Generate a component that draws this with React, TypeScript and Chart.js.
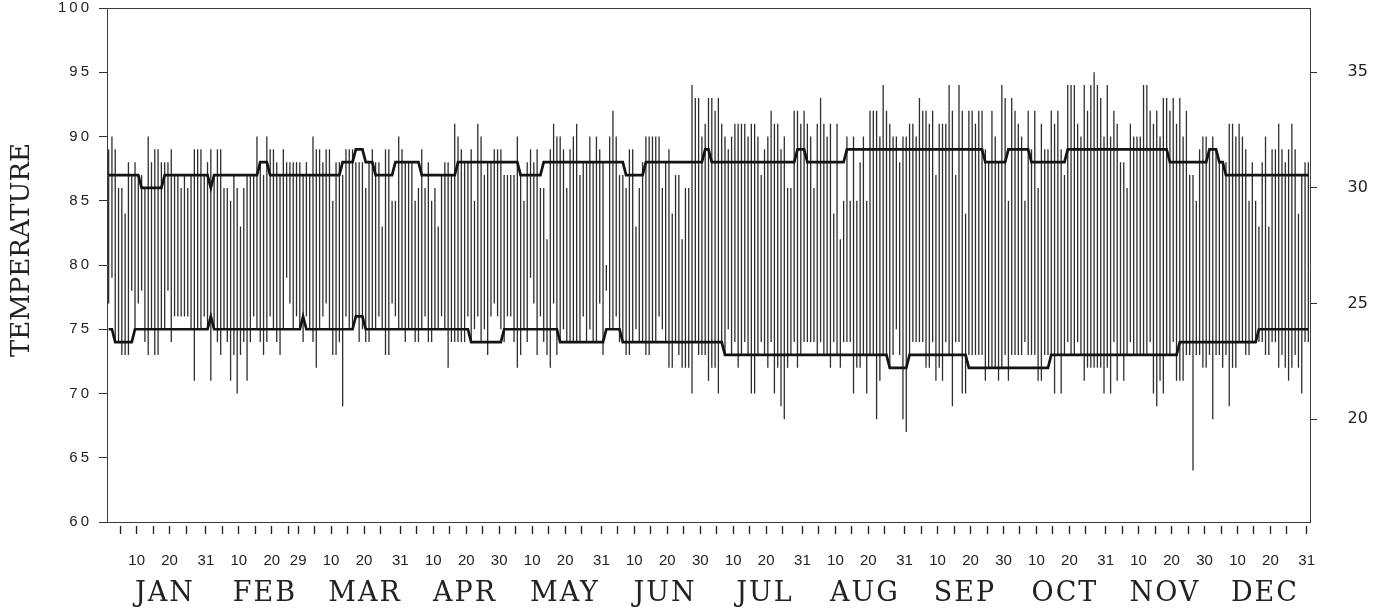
import React, { useEffect, useRef } from 'react';
import { Chart, registerables } from 'chart.js';

Chart.register(...registerables);

// ---------- data ----------
const monthNames = ['JAN', 'FEB', 'MAR', 'APR', 'MAY', 'JUN', 'JUL', 'AUG', 'SEP', 'OCT', 'NOV', 'DEC'];
const monthDays = [31, 28, 31, 30, 31, 30, 31, 31, 30, 31, 30, 31];
const monthEndLabels = ['31', '29', '31', '30', '31', '30', '31', '31', '30', '31', '30', '31'];
const tickDaysInMonth = [5, 10, 15, 20, 25];
const labeledDaysInMonth = [10, 20];
const celsiusTicks = [20, 25, 30, 35];

// daily high temperature (°F), day 1 .. 365
const dailyHigh = [
  89, 90, 89, 86, 86, 84, 88, 87, 88, 87, 87, 86, 90, 88, 89, 89, 88, 88, 88, 89,
  87, 87, 86, 87, 86, 87, 89, 89, 89, 87, 88, 89, 87, 89, 89, 86, 86, 85, 87, 86,
  83, 86, 87, 87, 87, 90, 88, 87, 90, 89, 89, 88, 87, 89, 88, 88, 88, 88, 88, 87,
  88, 87, 90, 89, 89, 88, 89, 89, 85, 88, 88, 87, 89, 89, 89, 88, 88, 88, 86, 88,
  89, 88, 88, 83, 89, 89, 85, 85, 90, 89, 88, 88, 88, 85, 86, 89, 86, 88, 85, 86,
  83, 87, 88, 88, 87, 91, 90, 89, 88, 88, 89, 85, 91, 90, 87, 88, 88, 89, 89, 89,
  87, 87, 87, 87, 90, 87, 85, 88, 89, 88, 89, 86, 86, 82, 89, 91, 90, 90, 89, 86,
  89, 90, 91, 87, 88, 88, 90, 88, 90, 89, 88, 80, 90, 92, 90, 87, 87, 86, 89, 89,
  83, 86, 88, 90, 90, 90, 90, 90, 86, 88, 89, 84, 87, 87, 82, 86, 86, 94, 93, 93,
  90, 91, 93, 93, 92, 93, 91, 90, 89, 90, 91, 91, 91, 91, 90, 91, 91, 90, 87, 89,
  90, 92, 91, 91, 89, 90, 86, 86, 92, 92, 91, 92, 91, 90, 86, 91, 93, 91, 90, 91,
  84, 91, 82, 85, 90, 85, 90, 85, 88, 90, 85, 92, 92, 92, 90, 94, 92, 91, 90, 90,
  88, 90, 90, 91, 91, 90, 93, 92, 92, 91, 92, 87, 91, 91, 91, 94, 92, 87, 94, 92,
  84, 92, 92, 91, 92, 92, 89, 88, 92, 90, 88, 94, 93, 85, 93, 92, 91, 90, 85, 92,
  89, 92, 86, 91, 89, 89, 92, 91, 92, 89, 87, 94, 94, 94, 91, 90, 94, 92, 94, 95,
  94, 93, 90, 94, 90, 92, 91, 88, 88, 86, 91, 90, 90, 90, 94, 94, 92, 91, 92, 90,
  93, 93, 92, 93, 91, 93, 90, 92, 87, 87, 85, 89, 90, 90, 89, 90, 89, 88, 88, 88,
  91, 91, 90, 91, 90, 89, 85, 88, 85, 83, 88, 90, 83, 89, 89, 91, 89, 88, 89, 91,
  89, 84, 87, 88, 88,
];

// daily low temperature (°F), day 1 .. 365
const dailyLow = [
  77, 79, 74, 74, 73, 73, 73, 78, 75, 77, 78, 74, 73, 75, 73, 73, 75, 75, 78, 74,
  76, 76, 76, 76, 76, 75, 71, 75, 75, 76, 75, 71, 75, 74, 73, 75, 74, 71, 73, 70,
  73, 74, 71, 74, 76, 75, 74, 73, 74, 76, 75, 74, 73, 75, 79, 77, 75, 76, 75, 74,
  76, 75, 74, 72, 75, 76, 77, 75, 73, 73, 74, 69, 76, 75, 75, 76, 74, 75, 74, 74,
  75, 75, 76, 75, 73, 73, 77, 76, 75, 75, 74, 75, 75, 74, 74, 75, 76, 74, 74, 75,
  75, 76, 75, 72, 74, 74, 74, 74, 74, 76, 74, 75, 76, 74, 75, 73, 76, 77, 76, 75,
  74, 76, 76, 74, 72, 73, 75, 74, 79, 77, 73, 76, 74, 73, 72, 77, 73, 74, 75, 74,
  74, 74, 74, 74, 76, 74, 75, 74, 74, 77, 73, 78, 75, 75, 76, 74, 74, 73, 73, 74,
  75, 74, 74, 73, 73, 74, 74, 76, 75, 74, 72, 72, 74, 73, 72, 72, 72, 70, 74, 73,
  73, 73, 71, 72, 72, 70, 74, 73, 75, 73, 74, 72, 73, 74, 73, 70, 70, 73, 74, 73,
  72, 74, 70, 72, 69, 68, 72, 73, 74, 72, 73, 74, 74, 74, 74, 73, 74, 73, 73, 72,
  74, 73, 72, 74, 74, 74, 70, 72, 72, 73, 70, 73, 73, 68, 71, 73, 73, 72, 73, 75,
  73, 68, 67, 73, 74, 74, 74, 74, 72, 72, 74, 71, 72, 71, 74, 73, 69, 74, 74, 70,
  70, 73, 73, 73, 73, 73, 71, 72, 72, 72, 71, 72, 73, 71, 73, 73, 73, 73, 74, 73,
  73, 73, 71, 71, 73, 73, 73, 70, 73, 70, 73, 74, 73, 73, 74, 73, 71, 72, 72, 72,
  72, 72, 70, 72, 70, 74, 71, 73, 71, 73, 74, 73, 73, 73, 73, 73, 74, 70, 69, 71,
  70, 73, 73, 74, 71, 71, 71, 73, 73, 64, 73, 73, 72, 72, 73, 68, 73, 73, 72, 73,
  69, 72, 72, 74, 74, 73, 73, 74, 74, 74, 74, 73, 73, 74, 74, 72, 73, 72, 71, 72,
  73, 72, 70, 74, 74,
];

// normal high / low as steps: [first day of step, °F]
const normalHighSteps = [
  [1, 87], [11, 86], [18, 87], [32, 86], [33, 87], [47, 88], [50, 87], [72, 88], [76, 89],
  [79, 88], [82, 87], [88, 88], [96, 87], [107, 88], [126, 87], [133, 88], [158, 87],
  [164, 88], [182, 89], [184, 88], [210, 89], [213, 88], [225, 89], [267, 88], [274, 89],
  [281, 88], [292, 89], [323, 88], [335, 89], [338, 88], [340, 87],
];
const normalLowSteps = [
  [1, 75], [3, 74], [9, 75], [32, 76], [33, 75], [60, 76], [61, 75], [76, 76], [79, 75],
  [111, 74], [121, 75], [138, 74], [152, 75], [157, 74], [188, 73], [238, 72], [244, 73],
  [262, 72], [287, 73], [326, 74], [350, 75],
];

// ---------- helpers ----------
const DAYS = monthDays.reduce((a, b) => a + b, 0);

function expandSteps(steps: number[][]): number[] {
  const out: number[] = [];
  for (let d = 1; d <= DAYS; d++) {
    let v = steps[0][1];
    for (const [from, val] of steps) if (d >= from) v = val;
    out.push(v);
  }
  return out;
}

const monthStarts: number[] = [];
monthDays.reduce((acc, n) => {
  monthStarts.push(acc);
  return acc + n;
}, 0);

const dayTickValues: number[] = [];
const dayTickLabels: string[] = [];
monthDays.forEach((n, m) => {
  tickDaysInMonth.forEach((d) => {
    dayTickValues.push(monthStarts[m] + d - 1);
    dayTickLabels.push(labeledDaysInMonth.includes(d) ? String(d) : '');
  });
  dayTickValues.push(monthStarts[m] + n - 1);
  dayTickLabels.push(monthEndLabels[m]);
});

const F2C = (f: number) => (f - 32) / 1.8;

// per-scale text styling that Chart.js has no option for (letter spacing, title nudge)
const textTweaks: Record<string, { labels?: string; title?: string; titleDy?: number }> = {
  y: { labels: '3px', titleDy: -15 },
  xMonth: { labels: '2px' },
};

const textTweakPlugin = {
  id: 'textTweaks',
  beforeDraw(chart: any) {
    Object.keys(textTweaks).forEach((id) => {
      const s: any = chart.scales[id];
      if (!s || s.__tweaked) return;
      s.__tweaked = true;
      const t = textTweaks[id];
      const origLabels = s.drawLabels;
      const origTitle = s.drawTitle;
      s.drawLabels = function (area: any) {
        const c = this.ctx;
        c.save();
        if (t.labels) c.letterSpacing = t.labels;
        origLabels.call(this, area);
        c.restore();
      };
      s.drawTitle = function () {
        const c = this.ctx;
        c.save();
        if (t.title) c.letterSpacing = t.title;
        if (t.titleDy) c.translate(0, t.titleDy);
        origTitle.call(this);
        c.restore();
      };
    });
  },
};

const noVPad = (s: any) => {
  s.paddingTop = 0;
  s.paddingBottom = 0;
};

export default function App() {
  const ref = useRef<HTMLCanvasElement | null>(null);

  useEffect(() => {
    if (!ref.current) return;
    const nHigh = expandSteps(normalHighSteps);
    const nLow = expandSteps(normalLowSteps);
    const barData = dailyHigh.map((h, i) => ({ x: i + 0.5, y: [dailyLow[i], h] }));
    const hiLine = nHigh.map((v, i) => ({ x: i + 0.5, y: v }));
    const loLine = nLow.map((v, i) => ({ x: i + 0.5, y: v }));

    const axisColor = '#3c3c3c';
    const textColor = '#222';
    const numFont = { family: 'Liberation Sans', size: 15 };
    const wordFont = 'DejaVu Serif';
    const monthSlot = 100 / 3.296; // month labels are evenly spaced, ~100px apart

    const lineDs = (data: any) =>
      ({
        type: 'line',
        data,
        borderColor: '#141414',
        borderWidth: 2.7,
        pointRadius: 0,
        tension: 0,
        order: 0,
        xAxisID: 'x',
        yAxisID: 'y',
      }) as any;

    const chart = new Chart(ref.current, {
      type: 'bar',
      data: {
        datasets: [
          lineDs(hiLine),
          lineDs(loLine),
          {
            type: 'bar',
            data: barData as any,
            backgroundColor: '#2e2e2e',
            borderWidth: 0,
            barThickness: 1.3,
            inflateAmount: 0,
            order: 1,
            xAxisID: 'x',
            yAxisID: 'y',
          } as any,
        ],
      },
      options: {
        animation: false,
        responsive: false,
        devicePixelRatio: 1,
        events: [],
        layout: { padding: { top: 8, left: 0, right: 0, bottom: 0 } },
        plugins: { legend: { display: false }, tooltip: { enabled: false }, title: { display: false } },
        scales: {
          x: {
            type: 'linear',
            position: 'bottom',
            min: 0,
            max: DAYS,
            offset: false,
            weight: 0,
            afterBuildTicks: (s: any) => {
              s.ticks = dayTickValues.map((v) => ({ value: v }));
            },
            afterFit: (s: any) => {
              s.height = 52;
              s.paddingLeft = 0;
              s.paddingRight = 0;
            },
            ticks: {
              autoSkip: false,
              maxRotation: 0,
              minRotation: 0,
              padding: 17.5,
              color: textColor,
              font: numFont,
              callback: (_v: any, i: number) => dayTickLabels[i],
            },
            grid: {
              display: true,
              drawOnChartArea: false,
              offset: false,
              tickLength: 12,
              tickColor: '#1e1e1e',
              tickWidth: 1.3,
              tickBorderDash: [0, 3, 9, 30],
            },
            border: { display: true, color: axisColor, width: 1 },
          },
          xMonth: {
            type: 'linear',
            position: 'bottom',
            min: 0,
            max: DAYS,
            offset: false,
            weight: 1,
            afterBuildTicks: (s: any) => {
              s.ticks = monthNames.map((_, i) => ({ value: 17.6 + monthSlot * i }));
            },
            afterFit: (s: any) => {
              s.height = 34;
              s.paddingLeft = 0;
              s.paddingRight = 0;
            },
            ticks: {
              autoSkip: false,
              maxRotation: 0,
              minRotation: 0,
              padding: 6,
              color: textColor,
              font: { family: wordFont, size: 27, lineHeight: 1 },
              callback: (_v: any, i: number) => monthNames[i],
            },
            grid: { display: false, drawTicks: false },
            border: { display: false },
          },
          xTop: {
            type: 'linear',
            position: 'top',
            min: 0,
            max: DAYS,
            afterFit: (s: any) => {
              s.height = 0;
            },
            ticks: { display: false },
            grid: { display: false, drawTicks: false },
            border: { display: true, color: axisColor, width: 1 },
          },
          y: {
            type: 'linear',
            position: 'left',
            min: 60,
            max: 100,
            beginAtZero: false,
            afterFit: (s: any) => {
              s.width = 107;
              noVPad(s);
            },
            ticks: { stepSize: 5, padding: 7, color: textColor, font: numFont },
            grid: { drawOnChartArea: false, tickLength: 8, tickColor: '#333', tickWidth: 1 },
            border: { display: true, color: axisColor, width: 1 },
            title: {
              display: true,
              text: 'TEMPERATURE',
              color: textColor,
              font: { family: wordFont, size: 26, lineHeight: 1 },
              padding: { top: 9.5, bottom: 0 },
            },
          },
          y2: {
            type: 'linear',
            position: 'right',
            min: F2C(60),
            max: F2C(100),
            afterBuildTicks: (s: any) => {
              s.ticks = celsiusTicks.map((v) => ({ value: v }));
            },
            afterFit: (s: any) => {
              s.width = 78;
              noVPad(s);
            },
            ticks: {
              padding: 30.5,
              crossAlign: 'near',
              color: textColor,
              font: { family: 'DejaVu Sans', size: 16 },
              callback: (v: any) => String(v),
            },
            grid: { drawOnChartArea: false, tickLength: 7, tickColor: '#333', tickWidth: 1 },
            border: { display: true, color: axisColor, width: 1 },
          },
        },
      } as any,
      plugins: [textTweakPlugin as any],
    });
    return () => chart.destroy();
  }, []);

  return (
    <div style={{ position: 'fixed', left: 0, top: 0, width: 1388, height: 608, background: '#fff' }}>
      <canvas ref={ref} width={1388} height={608} style={{ width: 1388, height: 608, display: 'block' }} />
    </div>
  );
}
